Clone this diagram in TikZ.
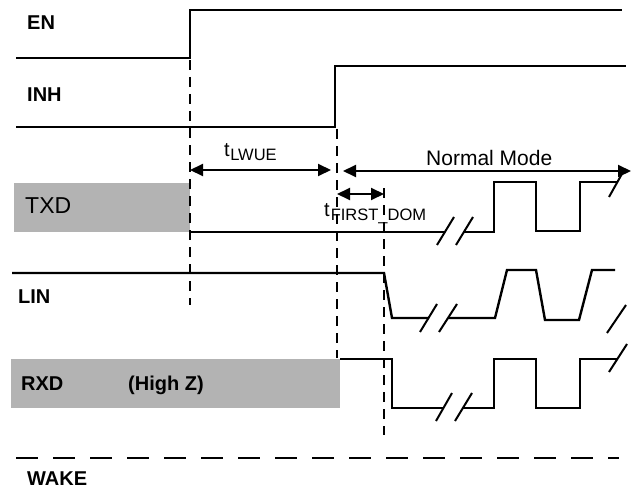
\documentclass[tikz,border=0pt]{standalone}
\usepackage{fontspec}
\setmainfont{Liberation Sans}
\usetikzlibrary{arrows.meta}
\definecolor{hiz}{RGB}{179,179,179}
\tikzset{
  sig/.style={line width=2.4pt, line join=miter},
  brk/.style={line width=2pt},
  vdash/.style={line width=2pt, dash pattern=on 10pt off 7pt},
  wakedash/.style={line width=2.4pt, dash pattern=on 22pt off 15pt},
  dimarrow/.style={line width=2pt, {Triangle[length=13pt,width=12pt]}-{Triangle[length=13pt,width=12pt]}},
  lbl/.style={anchor=base west, inner sep=0pt, font=\fontsize{20}{24}\selectfont\bfseries},
  txt/.style={anchor=base west, inner sep=0pt, font=\fontsize{20}{24}\selectfont},
  graybox/.style={fill=hiz, draw=none}
}
\newcommand{\subtxt}[1]{\raisebox{-4pt}{\fontsize{16.5}{18}\selectfont #1}}
\begin{document}
\begin{tikzpicture}[x=1pt,y=-1pt]
\useasboundingbox (0,0) rectangle (634,500);
% gray boxes
\fill[graybox] (14,183) rectangle (190,232);
\fill[graybox] (11,359) rectangle (340,408);
% labels
\node[lbl] (en) at (27,30) {EN};
\node[lbl] (inh) at (27,102) {INH};
\node[txt, font=\fontsize{23}{27}\selectfont] (txd) at (25,213) {TXD};
\node[lbl] (lin) at (18,303) {LIN};
\node[lbl] (rxd) at (21,390) {RXD};
\node[lbl] (hz) at (128,390) {(High Z)};
\node[lbl] (wake) at (27,485) {WAKE};
\node[txt] (tlwue) at (224,157) {t\kern0.5pt\subtxt{LWUE}};
\node[txt, font=\fontsize{21}{25}\selectfont] (nm) at (426,165) {Normal Mode};
\node[txt] (tfirst) at (324,216) {t\kern1pt\subtxt{FIRST\_DOM}};
% EN
\draw[sig] (16,58) -- (190,58) -- (190,10) -- (622,10);
% INH
\draw[sig] (16,127) -- (335,127) -- (335,66) -- (626,66);
% vertical guides
\draw[vdash] (190,60) -- (190,305);
\draw[vdash] (337,129) -- (337,358);
\draw[vdash] (384,188) -- (384,435);
% dimension arrows
\coordinate (lwA) at (190,170);
\coordinate (lwB) at (331,170);
\coordinate (nmA) at (343,171);
\coordinate (nmB) at (631,171);
\coordinate (fdA) at (337,194);
\coordinate (fdB) at (384,194);
\draw[dimarrow] (lwA) -- (lwB);
\draw[dimarrow] (nmA) -- (nmB);
\draw[dimarrow] (fdA) -- (fdB);
% TXD
\draw[sig] (189,232) -- (445,232);
\draw[brk] (437,245) -- (454,217);
\draw[brk] (456,245) -- (473,217);
\draw[sig] (464,232) -- (494,232) -- (494,182) -- (536,182) -- (536,231) -- (580,231) -- (580,182) -- (617,182);
\draw[brk] (609,197) -- (623,172);
% LIN
\draw[sig] (12,273) -- (384,273) -- (392,318) -- (429,318);
\draw[brk] (420,332) -- (437,304);
\draw[brk] (439,332) -- (457,304);
\draw[sig] (448,318) -- (495,318) -- (507,270) -- (536,270) -- (545,320) -- (579,320) -- (592,270) -- (615,270);
\draw[brk] (607,333) -- (626,305);
% RXD
\draw[sig] (340,359) -- (392,359) -- (392,408) -- (444,408);
\draw[brk] (436,421) -- (452,393);
\draw[brk] (455,421) -- (472,393);
\draw[sig] (463,408) -- (494,408) -- (494,359) -- (536,359) -- (536,408) -- (580,408) -- (580,359) -- (617,359);
\draw[brk] (609,372) -- (627,344);
% WAKE
\draw[wakedash] (16,458) -- (619,458);
\end{tikzpicture}
\end{document}
